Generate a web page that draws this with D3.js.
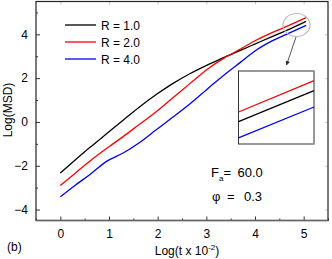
<!DOCTYPE html>
<html><head><meta charset="utf-8">
<script src="https://cdn.jsdelivr.net/npm/d3@7"></script>
<style>body{margin:0;background:#fff}svg{display:block;font-family:"Liberation Sans",Arial,sans-serif}</style>
</head><body>
<script>
const seriesNames = ["R = 1.0","R = 2.0","R = 4.0"];
const seriesColors = ["#000000","#ff0000","#0000ff"];
const xBlack = [0,0.3,0.61,1.0,1.29,1.6,1.97,2.3,2.66,3.07,3.34,3.7,4.02,4.35,4.7,5.05];
const yBlack = [-2.33,-1.75,-1.16,-0.45,0.08,0.64,1.25,1.74,2.2,2.65,2.93,3.27,3.58,3.9,4.23,4.59];
const xRed = [0,0.3,0.61,1.0,1.29,1.6,1.97,2.3,2.66,3.07,3.34,3.7,4.02,4.35,4.7,5.05];
const yRed = [-2.9,-2.35,-1.78,-1.13,-0.67,-0.15,0.47,1.08,1.75,2.49,2.88,3.33,3.73,4.08,4.41,4.76];
const xBlue = [0,0.3,0.61,0.95,1.29,1.63,1.97,2.3,2.66,3.07,3.34,3.7,4.02,4.35,4.7,5.05];
const yBlue = [-3.42,-2.9,-2.4,-1.8,-1.42,-0.94,-0.36,0.2,0.82,1.6,2.1,2.72,3.27,3.7,4.06,4.41];
const insetX = [4.8,5.05];
const insetBlack = [4.264,4.561];
const insetRed = [4.357,4.657];
const insetBlue = [4.108,4.405];
const xTicks = [0,1,2,3,4,5];
const yTicks = [-4,-2,0,2,4];
const paramLines = [["F","a","=","60.0"],["\u03c6","","=","0.3"]];

const W=332,H=259;
const svg=d3.select("body").append("svg").attr("width",W).attr("height",H);
const L=36,R=328,T=1.5,B=220.5;
const x=d3.scaleLinear().domain([-0.5,5.5]).range([L,R]);
const y=d3.scaleLinear().domain([-4.5,5.5]).range([B,T]);

// ticks (inward)
const gx=svg.append("g").attr("transform",`translate(0,${B})`)
  .call(d3.axisBottom(x).tickValues(xTicks).tickSize(-4).tickPadding(9).tickFormat(d3.format("d")));
const gxm=svg.append("g").attr("transform",`translate(0,${B})`)
  .call(d3.axisBottom(x).tickValues(d3.range(-0.5,5.6,1)).tickSize(-2).tickFormat(""));
const gy=svg.append("g").attr("transform",`translate(${L},0)`)
  .call(d3.axisLeft(y).tickValues(yTicks).tickSize(-4).tickPadding(8).tickFormat(d3.format("d")));
const gym=svg.append("g").attr("transform",`translate(${L},0)`)
  .call(d3.axisLeft(y).tickValues(d3.range(-3,5.1,2)).tickSize(-2).tickFormat(""));
[gx,gxm,gy,gym].forEach(g=>{g.select(".domain").remove();g.selectAll("line").attr("stroke","#333");
  g.selectAll("text").attr("font-size",12).attr("fill","#000").attr("font-family","Liberation Sans, Arial, sans-serif");});
// top faint ticks
svg.append("g").attr("transform",`translate(0,${T})`)
  .call(d3.axisTop(x).tickValues(xTicks).tickSize(-3).tickFormat(""))
  .call(g=>{g.select(".domain").remove();g.selectAll("line").attr("stroke","#ccc");});
svg.append("g").attr("transform",`translate(${R},0)`)
  .call(d3.axisRight(y).tickValues(yTicks).tickSize(-3).tickFormat(""))
  .call(g=>{g.select(".domain").remove();g.selectAll("line").attr("stroke","#ccc");});

// frame
svg.append("rect").attr("x",L).attr("y",T).attr("width",R-L).attr("height",B-T)
  .attr("fill","none").attr("stroke","#222").attr("stroke-width",1.2);
svg.append("line").attr("x1",L).attr("x2",R).attr("y1",B).attr("y2",B).attr("stroke","#666").attr("stroke-width",1.6);

const seriesX=[xBlack,xRed,xBlue], seriesY=[yBlack,yRed,yBlue];
const line=d3.line().curve(d3.curveMonotoneX);
seriesX.forEach((xs,i)=>{
  const pts=xs.map((v,j)=>[x(v),y(seriesY[i][j])]);
  svg.append("path").attr("d",line(pts)).attr("fill","none").attr("stroke",seriesColors[i]).attr("stroke-width",1.3);
});

// legend
seriesNames.forEach((n,i)=>{
  const yy=25+i*17;
  svg.append("line").attr("x1",65).attr("x2",96).attr("y1",yy).attr("y2",yy).attr("stroke",seriesColors[i]).attr("stroke-width",1.3);
  svg.append("text").attr("x",101).attr("y",yy+4.5).attr("font-size",12).text(n);
});

// ellipse + arrow
svg.append("ellipse").attr("cx",296.5).attr("cy",25).attr("rx",13.5).attr("ry",11.5)
  .attr("fill","none").attr("stroke","#bbb").attr("stroke-width",1.2);
svg.append("defs").append("marker").attr("id","ah").attr("viewBox","0 0 10 10").attr("refX",9).attr("refY",5)
  .attr("markerWidth",5).attr("markerHeight",5).attr("orient","auto")
  .append("path").attr("d","M0,0L10,5L0,10z").attr("fill","#333");
svg.append("line").attr("x1",296).attr("y1",37).attr("x2",286.5).attr("y2",65)
  .attr("stroke","#444").attr("stroke-width",0.9).attr("marker-end","url(#ah)");

// inset
const ix=d3.scaleLinear().domain(insetX).range([238.5,314]);
const iy=d3.scaleLinear().domain([4.05,4.75]).range([144,71]);
svg.append("rect").attr("x",238.5).attr("y",71).attr("width",75.5).attr("height",73)
  .attr("fill","#fff").attr("stroke","#333").attr("stroke-width",1);
svg.append("line").attr("x1",314).attr("x2",314).attr("y1",71).attr("y2",144).attr("stroke","#999").attr("stroke-width",1.6);
[insetBlack,insetRed,insetBlue].forEach((vals,i)=>{
  svg.append("path").attr("d",d3.line()(insetX.map((v,j)=>[ix(v),iy(vals[j])])))
    .attr("fill","none").attr("stroke",seriesColors[i]).attr("stroke-width",1.3);
});

// params
paramLines.forEach((p,i)=>{
  const by=177+i*23.5;
  const t=svg.append("text").attr("y",by).attr("font-size",13);
  t.append("tspan").attr("x",i===0?211:212).text(p[0]);
  if(p[1]) t.append("tspan").attr("font-size",8).attr("dy",4).text(p[1]);
  svg.append("text").attr("x",i===0?223.5:227).attr("y",by).attr("font-size",13).text(p[2]);
  svg.append("text").attr("x",i===0?237.5:244).attr("y",by).attr("font-size",13).text(p[3]);
});

// titles
svg.append("text").attr("transform","translate(12,110) rotate(-90)").attr("text-anchor","middle").attr("font-size",12).text("Log(MSD)");
const xt=svg.append("text").attr("x",187).attr("y",255).attr("text-anchor","middle").attr("font-size",12);
xt.append("tspan").text("Log(t x 10");
xt.append("tspan").attr("font-size",8).attr("dy",-5).text("-2");
xt.append("tspan").attr("dy",5).text(")");
svg.append("text").attr("x",7).attr("y",251).attr("font-size",12).text("(b)");
</script>
</body></html>
